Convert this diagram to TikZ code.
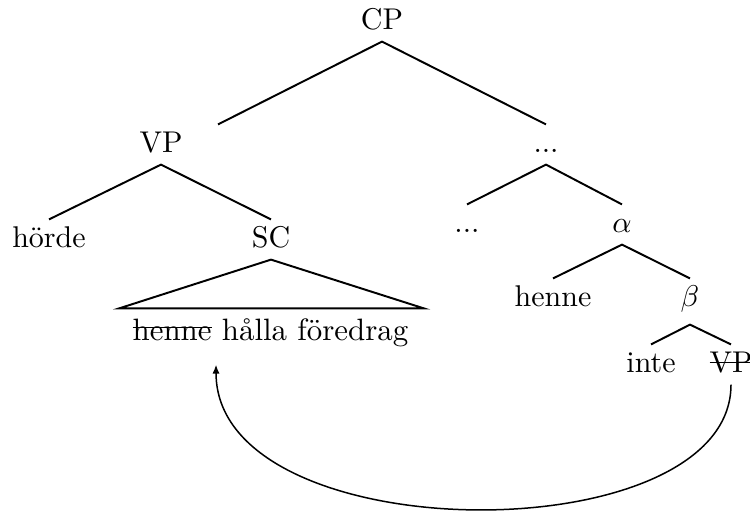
\documentclass[tikz,border=0pt]{standalone}
\usetikzlibrary{arrows.meta}
\newcommand\strk[2]{\setbox0=\hbox{#2}\rlap{\rule[#1]{\wd0}{0.5pt}}\box0\relax}
\begin{document}
\begin{tikzpicture}[x=0.33333pt,y=-0.33333pt,
  lbl/.style={anchor=base,inner xsep=0pt,inner ysep=2pt,text height=7pt,text depth=2pt,font=\fontsize{10}{12}\selectfont},
  branch/.style={line width=0.65pt},
  move/.style={line width=0.5pt,-{Latex[length=3pt,width=2.4pt]}}]
\useasboundingbox (0,0) rectangle (750,512);
\node[lbl] (cp) at (382,29) {CP};
\node[lbl] (vp) at (161,152) {VP};
\node[lbl] (dA) at (546,152) {...};
\node[lbl] (horde) at (49,247) {hörde};
\node[lbl] (sc) at (271,247) {SC};
\node[lbl] (dB) at (467,232) {...};
\node[lbl] (alpha) at (622,232) {$\alpha$};
\node[lbl] (henne) at (553,306) {henne};
\node[lbl,text depth=4pt] (beta) at (690,306) {$\beta$};
\node[lbl] (inte) at (651,372) {inte};
\node[lbl] (vpt) at (731,372) {\strk{2.9pt}{VP}};
\node[lbl,font=\fontsize{10.3}{12}\selectfont] (txt) at (270.5,340) {\strk{4pt}{henne} hålla föredrag};
\draw[branch] ([shift={(57,0)}]vp.north) -- (cp.south) -- (dA.north);
\draw[branch] (horde.north) -- (vp.south) -- (sc.north);
\draw[branch] (dB.north) -- (dA.south) -- (alpha.north);
\draw[branch] (henne.north) -- (alpha.south) -- (beta.north);
\draw[branch] (inte.north) -- (beta.south) -- (vpt.north);
\draw[branch,line join=miter] (sc.south) -- ([shift={(-13,-4)}]txt.north west) -- ([shift={(15,-4)}]txt.north east) -- cycle;
\draw[move] (vpt.south) .. controls +(0,170) and +(0,188) .. ([shift={(84,12)}]txt.south west);
\end{tikzpicture}
\end{document}
